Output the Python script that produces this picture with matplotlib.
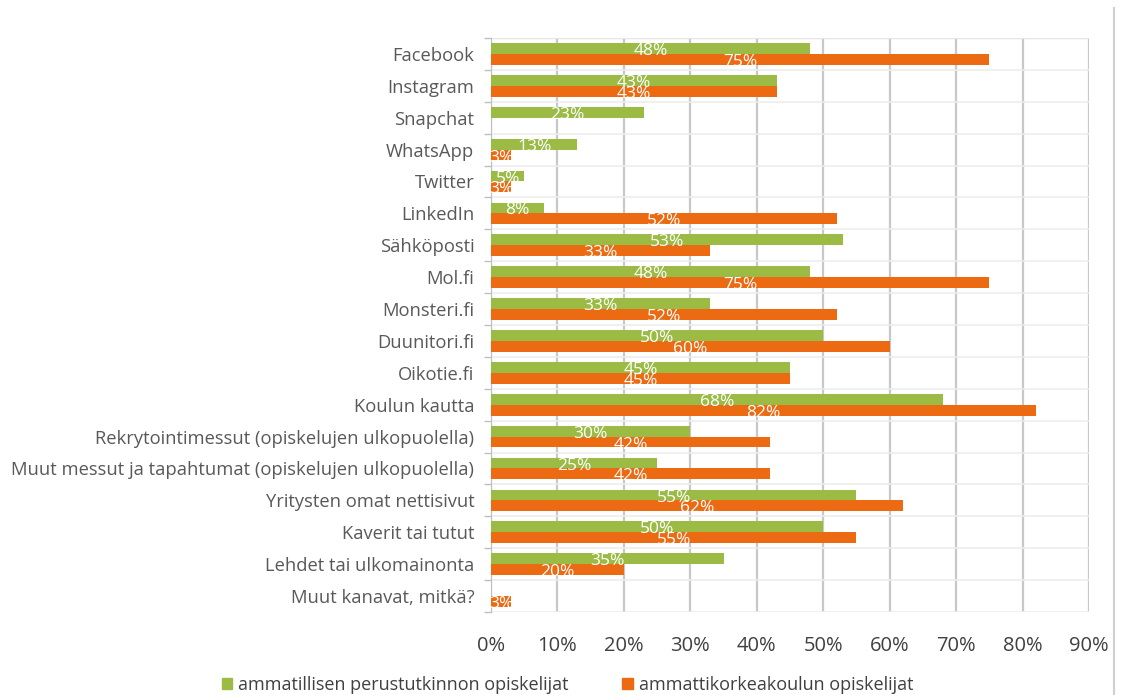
import matplotlib.pyplot as plt
import numpy as np
from matplotlib.lines import Line2D

plt.rcParams['font.family'] = ['Open Sans', 'DejaVu Sans']

kanavat = ["Facebook", "Instagram", "Snapchat", "WhatsApp", "Twitter", "LinkedIn",
           "Sähköposti", "Mol.fi", "Monsteri.fi", "Duunitori.fi", "Oikotie.fi",
           "Koulun kautta", "Rekrytointimessut (opiskelujen ulkopuolella)",
           "Muut messut ja tapahtumat (opiskelujen ulkopuolella)",
           "Yritysten omat nettisivut", "Kaverit tai tutut",
           "Lehdet tai ulkomainonta", "Muut kanavat, mitkä?"]
ammatillinen = [48, 43, 23, 13, 5, 8, 53, 48, 33, 50, 45, 68, 30, 25, 55, 50, 35, 0]
amk = [75, 43, 0, 3, 3, 52, 33, 75, 52, 60, 45, 82, 42, 42, 62, 55, 20, 3]
sarjat = ["ammatillisen perustutkinnon opiskelijat", "ammattikorkeakoulun opiskelijat"]

vihrea = "#9BBB45"
oranssi = "#EC6A12"

fig = plt.figure(figsize=(11.22, 6.95), dpi=100)
ax = fig.add_axes([0.4376, 0.1194, 0.533, 0.826])

y = np.arange(len(kanavat))
h = 0.34
ax.barh(y - h / 2, ammatillinen, height=h, color=vihrea, zorder=3)
ax.barh(y + h / 2, amk, height=h, color=oranssi, zorder=3)

# arvot palkkien keskelle
for i in range(len(kanavat)):
    if ammatillinen[i] > 0:
        ax.text(ammatillinen[i] / 2, y[i] - h / 2 + 0.08, "{}%".format(ammatillinen[i]),
                color="white", ha="center", va="center", fontsize=12.5, zorder=4)
    if amk[i] > 0:
        ax.text(amk[i] / 2, y[i] + h / 2 + 0.08, "{}%".format(amk[i]),
                color="white", ha="center", va="center", fontsize=12.5, zorder=4)

ax.set_xlim(0, 90)
ax.set_ylim(len(kanavat) - 0.5, -0.5)
ax.set_xticks(np.arange(0, 91, 10))
ax.set_xticklabels(["{}%".format(v) for v in range(0, 91, 10)], fontsize=14.5, color="#404040")
ax.set_yticks(y)
ax.set_yticklabels(kanavat, fontsize=13.2, color="#595959")
ax.set_yticks(np.arange(-0.5, len(kanavat), 1), minor=True)

ax.tick_params(axis="x", length=0, pad=17)
ax.tick_params(axis="y", which="major", length=0, pad=12)
ax.tick_params(axis="y", which="minor", length=5, color="#BFBFBF", width=1)

ax.grid(axis="x", color="#C8C8C8", linewidth=1.6, zorder=0)
ax.grid(axis="y", which="minor", color="#EDEDED", linewidth=1.2, zorder=0)
for s in ["top", "right", "bottom"]:
    ax.spines[s].set_visible(False)
ax.spines["left"].set_color("#BFBFBF")
ax.axhline(-0.5, color="#C8C8C8", linewidth=1.6, zorder=1)

# pystyviiva oikeassa reunassa
fig.add_artist(Line2D([0.9929, 0.9929], [0.0, 0.988], color="#D0D0D0", linewidth=1.5))

# selite
fig.legend(handles=[plt.Rectangle((0, 0), 1, 1, color=vihrea),
                    plt.Rectangle((0, 0), 1, 1, color=oranssi)],
           labels=sarjat, loc="lower left", bbox_to_anchor=(0.183, -0.022), ncol=2,
           frameon=False, fontsize=13, handlelength=0.6, handleheight=0.6,
           handletextpad=0.3, columnspacing=3.0, labelcolor="#404040")

fig.savefig("out.png", dpi=100)
